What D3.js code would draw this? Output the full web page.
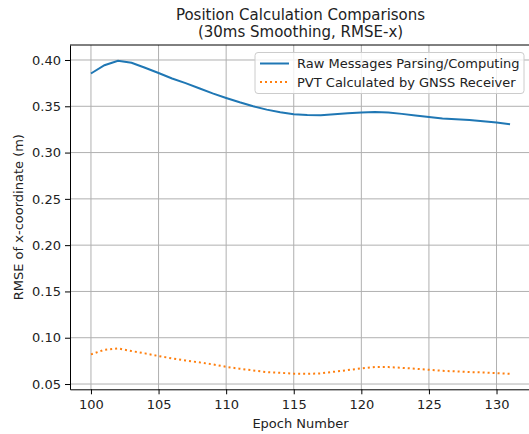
<!DOCTYPE html>
<html>
<head>
<meta charset="utf-8">
<script src="https://cdn.jsdelivr.net/npm/d3@7"></script>
<style>
  body { margin: 0; background: #fff; }
  svg { display: block; font-family: "DejaVu Sans", sans-serif; }
  .grid line { stroke: #b0b0b0; stroke-width: 1; }
  .axis path, .axis line { stroke: #000; }
  .axis text { font-size: 13px; fill: #222; font-family: "DejaVu Sans", sans-serif; }
</style>
</head>
<body>
<div id="chart"></div>
<script>
/* values */
var epochs = [100, 101, 102, 103, 104, 105, 106, 107, 108, 109, 110, 111, 112, 113, 114, 115,
	116, 117, 118, 119, 120, 121, 122, 123, 124, 125, 126, 127, 128, 129, 130, 131];

var rawRmse = [0.3854, 0.3944, 0.3991, 0.3970, 0.3916, 0.3860, 0.3800, 0.3750, 0.3695, 0.3640,
	0.3590, 0.3543, 0.3500, 0.3464, 0.3435, 0.3415, 0.3407, 0.3403, 0.3414, 0.3424, 0.3432,
	0.3439, 0.3432, 0.3418, 0.3400, 0.3385, 0.3367, 0.3360, 0.3353, 0.3338, 0.3324, 0.3305];

var pvtRmse = [0.0820, 0.0870, 0.0885, 0.0856, 0.0831, 0.0802, 0.0777, 0.0755, 0.0734, 0.0712,
	0.0686, 0.0665, 0.0647, 0.0629, 0.0621, 0.0612, 0.0610, 0.0615, 0.0633, 0.0651, 0.0669,
	0.0683, 0.0683, 0.0675, 0.0665, 0.0654, 0.0643, 0.0636, 0.0629, 0.0625, 0.0618, 0.0610];

var xTicks = [100, 105, 110, 115, 120, 125, 130];
var yTicks = [0.05, 0.10, 0.15, 0.20, 0.25, 0.30, 0.35, 0.40];

var seriesNames = ["Raw Messages Parsing/Computing", "PVT Calculated by GNSS Receiver"];

var w = 529;
var h = 434;

var padLeft = 70, padRight = 531, padTop = 45, padBottom = 389.3;

var svg = d3.select("#chart").append("svg").attr("width", w).attr("height", h);

var xScale = d3.scaleLinear()
	.domain([98.45, 132.55])
	.range([padLeft, padRight]);

var yScale = d3.scaleLinear()
	.domain([0.0443, 0.4162])
	.range([padBottom, padTop]);

/* grid */
var grid = svg.append("g").attr("class", "grid");
grid.selectAll("line.v").data(xTicks).enter()
	.append("line")
	.attr("class", "v")
	.attr("x1", function (d) { return xScale(d); })
	.attr("x2", function (d) { return xScale(d); })
	.attr("y1", padTop)
	.attr("y2", padBottom);
grid.selectAll("line.h").data(yTicks).enter()
	.append("line")
	.attr("class", "h")
	.attr("x1", padLeft)
	.attr("x2", padRight)
	.attr("y1", function (d) { return yScale(d); })
	.attr("y2", function (d) { return yScale(d); });

/* lines */
var line = function (vals) {
	return d3.line()
		.x(function (d, i) { return xScale(epochs[i]); })
		.y(function (d) { return yScale(d); })(vals);
};

svg.append("path")
	.attr("d", line(rawRmse))
	.attr("fill", "none")
	.attr("stroke", "#1f77b4")
	.attr("stroke-width", 2);

svg.append("path")
	.attr("d", line(pvtRmse))
	.attr("fill", "none")
	.attr("stroke", "#ff7f0e")
	.attr("stroke-width", 2)
	.attr("stroke-dasharray", "2,3");

/* axes */
var xAxis = d3.axisBottom(xScale).tickValues(xTicks).tickSize(5).tickPadding(5).tickSizeOuter(0);
var yAxis = d3.axisLeft(yScale).tickValues(yTicks).tickSize(5).tickPadding(4).tickSizeOuter(0)
	.tickFormat(d3.format(".2f"));

svg.append("g")
	.attr("class", "axis")
	.attr("transform", "translate(0," + padBottom + ")")
	.call(xAxis);

svg.append("g")
	.attr("class", "axis")
	.attr("transform", "translate(" + padLeft + ",0)")
	.call(yAxis);

/* top spine */
svg.append("line")
	.attr("x1", padLeft).attr("x2", padRight)
	.attr("y1", padTop).attr("y2", padTop)
	.attr("stroke", "#000");

/* axis labels */
svg.append("text")
	.attr("x", (padLeft + padRight) / 2)
	.attr("y", 428)
	.style("text-anchor", "middle")
	.style("font-size", "13px")
	.style("fill", "#222")
	.text("Epoch Number");

svg.append("text")
	.attr("transform", "translate(23," + ((padTop + padBottom) / 2) + ") rotate(-90)")
	.style("text-anchor", "middle")
	.style("font-size", "13px")
	.style("fill", "#222")
	.text("RMSE of x-coordinate (m)");

/* title */
svg.append("text")
	.attr("x", (padLeft + padRight) / 2)
	.attr("y", 20)
	.style("text-anchor", "middle")
	.style("font-size", "15px")
	.style("fill", "#222")
	.text("Position Calculation Comparisons");

svg.append("text")
	.attr("x", (padLeft + padRight) / 2)
	.attr("y", 37)
	.style("text-anchor", "middle")
	.style("font-size", "15px")
	.style("fill", "#222")
	.text("(30ms Smoothing, RMSE-x)");

/* legend */
var legend = svg.append("g");
legend.append("rect")
	.attr("x", 255).attr("y", 52.5)
	.attr("width", 269).attr("height", 41)
	.attr("rx", 3)
	.attr("fill", "#fff").attr("fill-opacity", 0.8)
	.attr("stroke", "#ccc");

var legendRows = legend.selectAll("g.row").data(seriesNames).enter()
	.append("g")
	.attr("class", "row")
	.attr("transform", function (d, i) { return "translate(0," + (63.5 + i * 18.5) + ")"; });

legendRows.append("line")
	.attr("x1", 260).attr("x2", 289)
	.attr("y1", 0).attr("y2", 0)
	.attr("stroke", function (d, i) { return i === 0 ? "#1f77b4" : "#ff7f0e"; })
	.attr("stroke-width", 2)
	.attr("stroke-dasharray", function (d, i) { return i === 0 ? null : "2,3"; });

legendRows.append("text")
	.attr("x", 297)
	.attr("y", 0)
	.attr("dy", "0.35em")
	.style("font-size", "13px")
	.style("fill", "#222")
	.text(function (d) { return d; });
</script>
</body>
</html>
